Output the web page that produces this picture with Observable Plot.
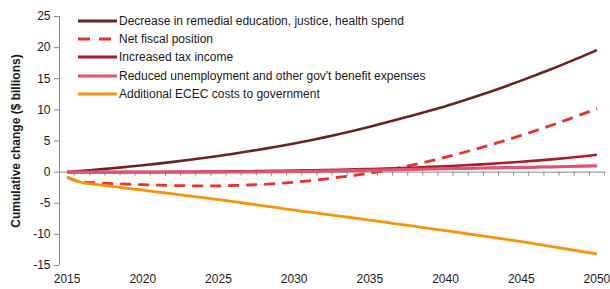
<!DOCTYPE html>
<html>
<head>
<meta charset="utf-8">
<script src="https://cdn.jsdelivr.net/npm/d3@7"></script>
<script src="https://cdn.jsdelivr.net/npm/@observablehq/plot@0.6"></script>
<style>
  body { margin: 0; background: #fff; }
  #wrap { position: relative; width: 610px; height: 289px; font-family: "Liberation Sans", Arial, sans-serif; }
  #legend { position: absolute; left: 78px; top: 12px; font-size: 12px; color: #1a1a1a; }
  .item { display: flex; align-items: center; height: 18.2px; white-space: nowrap; }
  .item svg { margin-right: 2px; }
</style>
</head>
<body>
<div id="wrap"><div id="legend"></div></div>
<script>
const years = [2015,2016,2017,2018,2019,2020,2021,2022,2023,2024,2025,2026,2027,2028,2029,2030,2031,2032,2033,2034,2035,2036,2037,2038,2039,2040,2041,2042,2043,2044,2045,2046,2047,2048,2049,2050];

const seriesNames = [
  "Decrease in remedial education, justice, health spend",
  "Net fiscal position",
  "Increased tax income",
  "Reduced unemployment and other gov't benefit expenses",
  "Additional ECEC costs to government"
];

const remedial = [0,0.2,0.42,0.63,0.86,1.1,1.36,1.64,1.94,2.26,2.6,2.96,3.34,3.74,4.16,4.6,5.08,5.58,6.12,6.7,7.3,7.92,8.56,9.22,9.9,10.6,11.36,12.15,12.96,13.81,14.7,15.62,16.56,17.55,18.56,19.6];
const netFiscal = [-0.8,-1.6,-1.72,-1.84,-1.94,-2.02,-2.09,-2.15,-2.19,-2.21,-2.2,-2.15,-2.07,-1.96,-1.81,-1.62,-1.39,-1.12,-0.82,-0.5,-0.15,0.25,0.72,1.24,1.8,2.4,3.03,3.7,4.4,5.13,5.9,6.7,7.53,8.39,9.28,10.2];
const taxIncome = [0,0,0,0,0,0,0.02,0.04,0.06,0.08,0.1,0.12,0.15,0.18,0.21,0.25,0.29,0.33,0.38,0.44,0.5,0.57,0.65,0.74,0.84,0.95,1.07,1.2,1.34,1.5,1.67,1.85,2.05,2.27,2.52,2.8];
const unemployment = [0,0,0,0,0,0,0,0,0,0,0,0.02,0.04,0.06,0.08,0.1,0.13,0.16,0.2,0.25,0.3,0.35,0.4,0.45,0.5,0.55,0.59,0.63,0.67,0.71,0.75,0.8,0.85,0.9,0.95,1.0];
const ecec = [-0.8,-1.7,-2.0,-2.3,-2.6,-2.9,-3.2,-3.5,-3.8,-4.1,-4.4,-4.74,-5.08,-5.42,-5.76,-6.1,-6.42,-6.74,-7.06,-7.38,-7.7,-8.04,-8.38,-8.72,-9.06,-9.4,-9.75,-10.1,-10.45,-10.8,-11.15,-11.55,-11.95,-12.35,-12.75,-13.15];

const yTicks = [-15,-10,-5,0,5,10,15,20,25];
const xTicks = [2015,2020,2025,2030,2035,2040,2045,2050];
const yLabel = "Cumulative change ($ billions)";

const allValues = [remedial, netFiscal, taxIncome, unemployment, ecec];
const colors = ["#6B2222", "#E8322B", "#A61E2A", "#DE5472", "#F4960C"];
const widths = [2.6, 2.8, 2.6, 3.2, 2.8];
const dashes = [null, "11,7", null, null, null];

const tidy = seriesNames.flatMap((name, s) =>
  allValues[s].map((v, i) => ({year: years[i], value: v, series: name})));

const xDomain = [years[0] - 0.5, years[years.length - 1] + 0.5];
const boundaries = [...years.map(y => y - 0.5), years[years.length - 1] + 0.5];
const axisColor = "#8a8a8a";

const chart = Plot.plot({
  width: 610,
  height: 289,
  marginLeft: 59,
  marginRight: 6,
  marginTop: 16,
  marginBottom: 24,
  style: {fontFamily: '"Liberation Sans", Arial, sans-serif', fontSize: "12px", color: "#1a1a1a", background: "#fff"},
  x: {domain: xDomain, axis: null},
  y: {domain: [-15, 25], axis: null},
  marks: [
    Plot.ruleX([xDomain[0]], {stroke: axisColor, strokeWidth: 1}),
    Plot.axisY({ticks: yTicks, tickSize: 5, tickPadding: 4, tickFormat: d => String(d), label: null, stroke: axisColor, fill: "#1a1a1a", fontSize: 12}),
    Plot.ruleY([0], {x1: xDomain[0], x2: xDomain[1], stroke: axisColor, strokeWidth: 1}),
    Plot.ruleX(boundaries, {y1: 0, y2: -0.65, stroke: axisColor, strokeWidth: 1}),
    Plot.axisX({ticks: xTicks, tickSize: 0, tickPadding: 9, tickFormat: d => String(d), label: null, fill: "#1a1a1a", fontSize: 12}),
    Plot.text([yLabel], {frameAnchor: "left", textAnchor: "middle", lineAnchor: "middle", rotate: -90, dx: -43, fontWeight: "bold", fontSize: 12, fill: "#1a1a1a"}),
    ...seriesNames.map((name, s) => Plot.line(tidy.filter(d => d.series === name), {
      x: "year", y: "value", stroke: colors[s], strokeWidth: widths[s], curve: "monotone-x",
      strokeDasharray: dashes[s], strokeLinecap: "butt", strokeLinejoin: "round"
    }))
  ]
});
document.getElementById("wrap").prepend(chart);

const legend = document.getElementById("legend");
seriesNames.forEach((name, s) => {
  const item = document.createElement("div");
  item.className = "item";
  const dash = dashes[s] ? 'stroke-dasharray="12,9"' : "";
  item.innerHTML = `<svg width="39" height="6"><line x1="0" x2="39" y1="3" y2="3" stroke="${colors[s]}" stroke-width="3" ${dash}/></svg><span>${name.replace(/'/g, "&#39;")}</span>`;
  legend.appendChild(item);
});
</script>
</body>
</html>
